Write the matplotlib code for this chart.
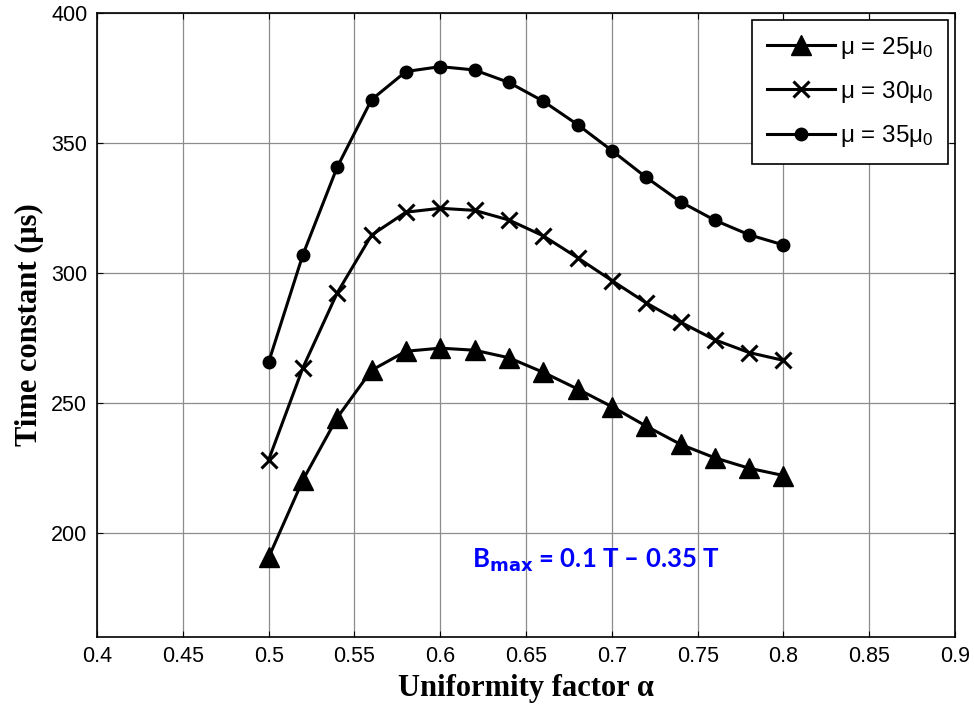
import matplotlib
matplotlib.use('Agg')
import matplotlib.pyplot as plt
import numpy as np

# ---- data ----
alpha = [0.50, 0.52, 0.54, 0.56, 0.58, 0.60, 0.62, 0.64,
         0.66, 0.68, 0.70, 0.72, 0.74, 0.76, 0.78, 0.80]
tau_25 = [190.5, 220.3, 244.3, 262.5, 269.8, 271.0, 270.2, 267.3,
          261.7, 255.3, 248.5, 241.0, 234.0, 228.8, 224.8, 222.0]
tau_30 = [228.0, 263.5, 292.3, 314.5, 323.3, 324.8, 324.0, 320.3,
          314.2, 305.8, 297.0, 288.4, 281.0, 274.2, 269.3, 266.3]
tau_35 = [265.6, 307.0, 340.7, 366.6, 377.4, 379.3, 378.0, 373.2,
          366.0, 357.0, 347.0, 336.7, 327.3, 320.2, 314.6, 310.7]
labels = ['μ = 25$\\mathregular{μ_0}$', 'μ = 30$\\mathregular{μ_0}$',
          'μ = 35$\\mathregular{μ_0}$']
xticks = [0.4, 0.45, 0.5, 0.55, 0.6, 0.65, 0.7, 0.75, 0.8, 0.85, 0.9]
yticks = [200, 250, 300, 350, 400]

plt.rcParams['font.family'] = ['Liberation Sans', 'DejaVu Sans']
plt.rcParams['mathtext.fontset'] = 'custom'
plt.rcParams['mathtext.rm'] = 'Liberation Sans'

fig = plt.figure(figsize=(9.74, 7.11), dpi=100)
ax = fig.add_axes([0.0996, 0.1045, 0.881, 0.8775])

ax.plot(alpha, tau_25, '-^', color='k', lw=2.2, ms=14, label=labels[0])
ax.plot(alpha, tau_30, '-x', color='k', lw=2.2, ms=12, mew=2.2, label=labels[1])
ax.plot(alpha, tau_35, '-o', color='k', lw=2.2, ms=9, label=labels[2])

ax.set_xlim(0.4, 0.9)
ax.set_ylim(160, 400)
ax.set_xticks(xticks)
ax.set_xticklabels([('%g' % t) for t in xticks])
ax.set_yticks(yticks)
ax.tick_params(direction='in', length=4, labelsize=15.5, top=True, right=True,
               pad=7)
ax.grid(True, color='#8c8c8c', lw=0.9)
for s in ax.spines.values():
    s.set_linewidth(1.2)

ax.set_xlabel('Uniformity factor α', family='Liberation Serif',
              fontweight='bold', fontsize=22, labelpad=5)
ax.set_ylabel('Time constant (μs)', family='Liberation Serif',
              fontweight='bold', fontsize=22, labelpad=5)

ax.text(0.6185, 186.5, r'B$_{\mathbf{max}}$ = 0.1 T – 0.35 T', color='#0000ff',
        fontsize=18.5, fontweight='bold', family=['Lato', 'DejaVu Sans'])

leg = ax.legend(loc='upper right', fontsize=17.5, handlelength=2.8,
                fancybox=False, edgecolor='k', framealpha=1,
                borderaxespad=0.3, borderpad=0.6, labelspacing=0.75,
                handletextpad=0.2)
leg.get_frame().set_linewidth(1.2)

fig.savefig('out.png', dpi=100)
